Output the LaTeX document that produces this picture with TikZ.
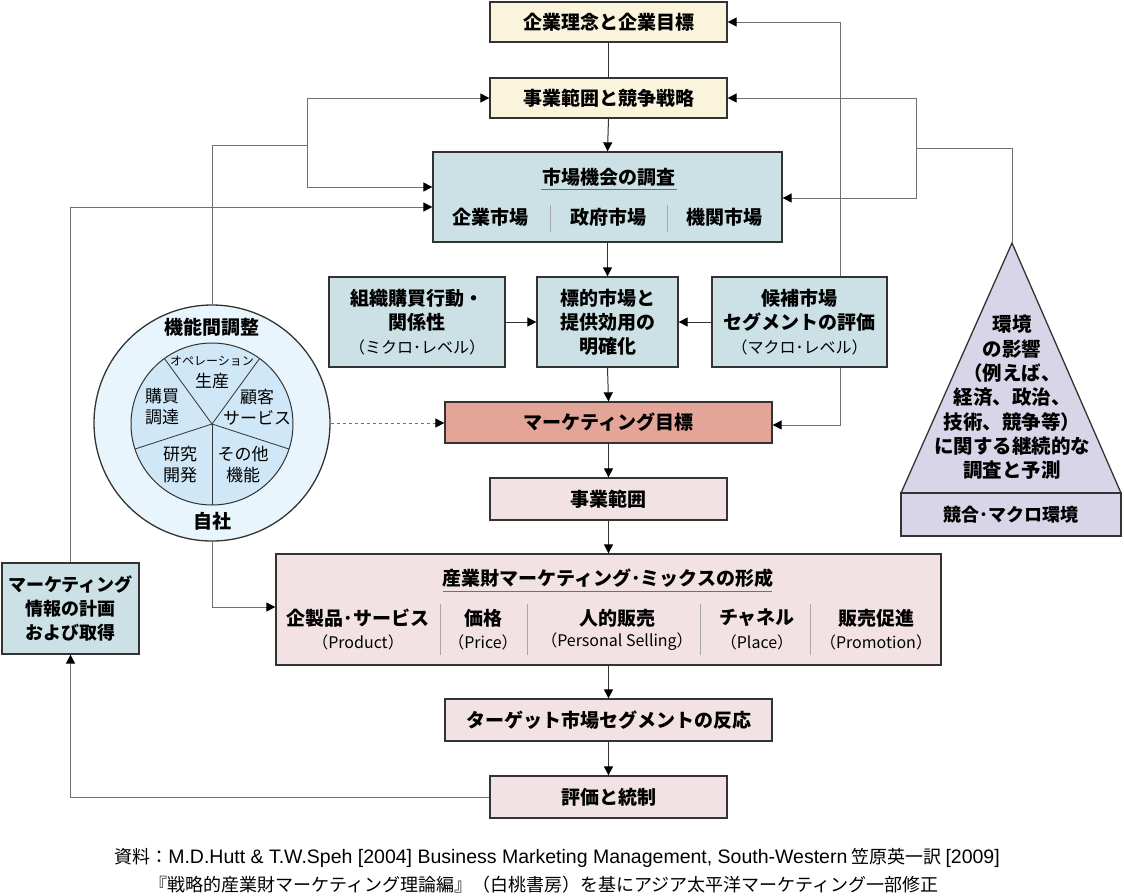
\documentclass[tikz,border=0pt]{standalone}
\usepackage{fontspec}
\setmainfont{Noto Sans CJK JP}
\newfontfamily\latinf{Liberation Sans}
\usetikzlibrary{arrows.meta,calc}
\definecolor{cream}{HTML}{FBF4DC}
\definecolor{bluegray}{HTML}{CCE1E6}
\definecolor{salmon}{HTML}{E3A597}
\definecolor{pinkbox}{HTML}{F3E2E4}
\definecolor{lav}{HTML}{D9D5E8}
\definecolor{outerc}{HTML}{E9F5FC}
\definecolor{innerc}{HTML}{CFE7F6}
\definecolor{bord}{HTML}{333333}
\definecolor{conc}{HTML}{707070}
\definecolor{sepc}{HTML}{A8A8A8}
\tikzset{
  box/.style={draw=bord, line width=1.3pt, inner sep=0pt, align=center,
    font=\bfseries\fontsize{19}{24}\selectfont},
  lbl/.style={inner sep=0pt, align=center, font=\bfseries\fontsize{19}{24}\selectfont},
  sublbl/.style={inner sep=0pt, align=center, font=\fontsize{16}{20}\selectfont},
  pielbl/.style={inner sep=0pt, align=center, font=\fontsize{17}{21}\selectfont},
  tipa/.tip={Triangle[length=9pt,width=9pt,color=black]},
  flow/.style={draw=bord, line width=1pt, -tipa},
  flowplain/.style={draw=bord, line width=1pt},
  side/.style={draw=conc, line width=1pt, -tipa},
  sideplain/.style={draw=conc, line width=1pt},
  sepline/.style={draw=sepc, line width=0.6pt},
  uline/.style={draw=conc, line width=1pt},
}
\newcommand{\subt}[1]{{\mdseries\fontsize{16}{24}\selectfont #1}}
\newcommand{\capl}[1]{{\latinf\fontsize{19.5}{20}\selectfont #1}}
\begin{document}
\begin{tikzpicture}[x=1pt,y=-1pt]
\useasboundingbox (0,0) rectangle (1124,895);

% main boxes
\node[box, fill=cream, minimum width=237pt, minimum height=40pt] (phil) at (608.5,22) {企業理念と企業目標};
\node[box, fill=cream, minimum width=237pt, minimum height=40pt] (strat) at (608.5,98) {事業範囲と競争戦略};
\node[box, fill=bluegray, minimum width=349pt, minimum height=90pt] (mkt) at (607.5,197) {};
\node[lbl] (mktt) at (609,177) {市場機会の調査};
\draw[uline] (541,189) -- (677,189);
\node[lbl] (m1) at (490,217) {企業市場};
\node[lbl] (m2) at (608,217) {政府市場};
\node[lbl] (m3) at (724,217) {機関市場};
\draw[sepline] (550,205) -- (550,232);
\draw[sepline] (667,205) -- (667,232);

\node[box, fill=bluegray, minimum width=176pt, minimum height=90pt] (org) at (417,322) {組織購買行動・\\関係性\\\subt{（ミクロ･レベル）}};
\node[box, fill=bluegray, minimum width=141pt, minimum height=90pt] (tgt) at (607.5,322) {標的市場と\\提供効用の\\明確化};
\node[box, fill=bluegray, minimum width=175pt, minimum height=90pt] (cand) at (799.5,322) {候補市場\\セグメントの評価\\\subt{（マクロ･レベル）}};

\node[box, fill=salmon, minimum width=327pt, minimum height=41pt] (goal) at (608.5,422.5) {マーケティング目標};
\node[box, fill=pinkbox, minimum width=237pt, minimum height=42pt] (biz) at (608.5,499) {事業範囲};

\node[box, fill=pinkbox, minimum width=665pt, minimum height=111pt] (mix) at (608.5,609.5) {};
\node[lbl] (mixt) at (608,578) {産業財マーケティング･ミックスの形成};
\draw[uline] (443,591) -- (772,591);
\node[lbl] (p1) at (358,618) {企製品･サービス};
\node[sublbl] (p1s) at (358,642) {（Product）};
\node[lbl] (p2) at (483,618) {価格};
\node[sublbl] (p2s) at (483,642) {（Price）};
\node[lbl] (p3) at (617,618) {人的販売};
\node[sublbl] (p3s) at (617,642) {（Personal Selling）};
\node[lbl] (p4) at (757,618) {チャネル};
\node[sublbl] (p4s) at (757,642) {（Place）};
\node[lbl] (p5) at (876,618) {販売促進};
\node[sublbl] (p5s) at (876,642) {（Promotion）};
\foreach \sx in {440,527,700,810} \draw[sepline] (\sx,604) -- (\sx,655);

\node[box, fill=pinkbox, minimum width=327pt, minimum height=42pt] (resp) at (608.5,720) {ターゲット市場セグメントの反応};
\node[box, fill=pinkbox, minimum width=237pt, minimum height=42pt] (eval) at (608.5,797) {評価と統制};

\node[box, fill=bluegray, minimum width=137pt, minimum height=91pt, font=\bfseries\fontsize{18}{24}\selectfont] (info) at (70.5,608.5) {マーケティング\\情報の計画\\および取得};

% circle
\node[circle, draw=bord, line width=1.3pt, fill=outerc, minimum size=236pt, inner sep=0pt] (circ) at (212,423) {};
\node[circle, draw=bord, line width=1pt, fill=innerc, minimum size=162pt, inner sep=0pt] (pie) at (212,424) {};
\foreach \a in {54,126,198,270,342}
  \draw[bord, line width=0.8pt] (pie.center) -- ($(pie.center)+(\a:81pt)$);
\node[lbl] (ct) at (212,327) {機能間調整};
\node[lbl] (cb) at (212,521) {自社};
\node[inner sep=0pt, font=\fontsize{12}{14}\selectfont] (s1a) at (212,361) {オペレーション};
\node[pielbl] (s1b) at (212,381) {生産};
\node[pielbl] (s2) at (162,407) {購買\\調達};
\node[pielbl] (s3) at (257,407) {顧客\\サービス};
\node[pielbl] (s4) at (180,465) {研究\\開発};
\node[pielbl] (s5) at (243,465) {その他\\機能};

% environment triangle
\coordinate (apex) at (1012,243);
\draw[draw=bord, line width=1.3pt, fill=lav] (apex) -- (901,493) -- (1121,493) -- cycle;
\node[inner sep=0pt, align=center, font=\bfseries\fontsize{19.5}{24.3}\selectfont] (envt) at (1012,397.5)
  {環境\\の影響\\（例えば、\\経済、政治、\\技術、競争等）\\に関する継続的な\\調査と予測};
\node[box, fill=lav, minimum width=220pt, minimum height=43pt, font=\bfseries\fontsize{18}{24}\selectfont] (envb) at (1011,514.5) {競合･マクロ環境};

% junctions
\coordinate (j1) at (307,145);
\coordinate (j2) at (916,148);

% main flow
\draw[flowplain] (phil.south) -- (strat.north);
\draw[flow] (strat.south) -- (mkt.north);
\draw[flow] (mkt.south) -- (tgt.north);
\draw[flow] (org.east) -- (tgt.west);
\draw[flow] (cand.west) -- (tgt.east);
\draw[flow] (tgt.south) -- (goal.north);
\draw[flow] (goal.south) -- (biz.north);
\draw[flow] (biz.south) -- (mix.north);
\draw[flow] (mix.south) -- (resp.north);
\draw[flow] (resp.south) -- (eval.north);

% side links
\draw[sideplain] (circ.north) |- (j1);
\draw[side] (j1) |- (strat.west);
\draw[side] (j1) |- ([yshift=10pt]mkt.west);
\draw[side] (info.north) |- ([yshift=-10pt]mkt.west);
\draw[sideplain] (apex) |- (j2);
\draw[side] (j2) |- (strat.east);
\draw[side] (j2) |- ([yshift=-1pt]mkt.east);
\draw[side] ([xshift=40.5pt]cand.north) |- (phil.east);
\draw[side] ([xshift=40.5pt]cand.south) |- ([yshift=-2.5pt]goal.east);
\draw[side, dashed] (circ.east) -- (circ.east -| goal.west);
\draw[side] (circ.south) |- ([yshift=2.5pt]mix.west);
\draw[side] (eval.west) -| (info.south);

% caption
\node[inner sep=0pt, font=\fontsize{18}{20}\selectfont] (cap1) at (557,858)
  {資料：\capl{M.D.Hutt \& T.W.Speh [2004] Business Marketing Management, South-Western} 笠原英一訳 \capl{[2009]}};
\node[inner sep=0pt, font=\fontsize{18}{20}\selectfont] (cap2) at (544,885)
  {『戦略的産業財マーケティング理論編』（白桃書房）を基にアジア太平洋マーケティング一部修正};
\end{tikzpicture}
\end{document}
